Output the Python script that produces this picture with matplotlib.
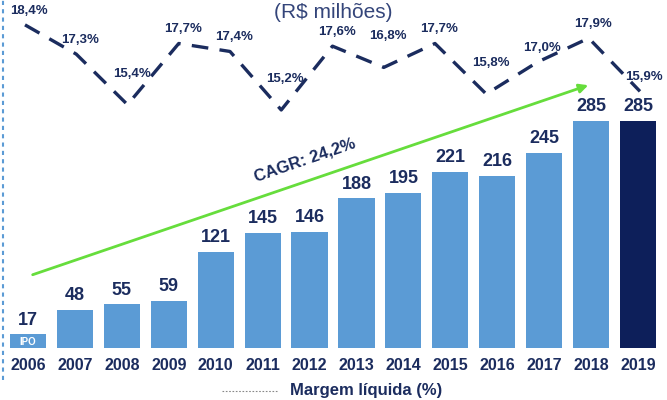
import numpy as np
import matplotlib
matplotlib.use("Agg")
import matplotlib.pyplot as plt
from matplotlib.lines import Line2D

plt.rcParams['font.family'] = ['Liberation Sans', 'DejaVu Sans']

# lucro liquido (R$ milhoes) por ano
years = ["2006", "2007", "2008", "2009", "2010", "2011", "2012",
         "2013", "2014", "2015", "2016", "2017", "2018", "2019"]
profit = [17, 48, 55, 59, 121, 145, 146, 188, 195, 221, 216, 245, 285, 285]

# margem liquida (%) - 13 pontos
margin = [18.4, 17.3, 15.4, 17.7, 17.4, 15.2, 17.6, 16.8, 17.7, 15.8, 17.0, 17.9, 15.9]
margin_labels = ["18,4%", "17,3%", "15,4%", "17,7%", "17,4%", "15,2%", "17,6%",
                 "16,8%", "17,7%", "15,8%", "17,0%", "17,9%", "15,9%"]

navy = "#1b2c5e"
light_blue = "#5b9bd5"
dark_blue = "#0d1f5a"
green = "#66dd3c"

W, H = 667, 400
fig = plt.figure(figsize=(W / 100, H / 100), dpi=100)

pos = [4.5 / W, 52 / H, 657 / W, 348 / H]
ax = fig.add_axes(pos)
x = np.arange(len(years))
colors = [light_blue] * (len(years) - 1) + [dark_blue]
ax.bar(x, profit, width=0.77, color=colors, zorder=2)
ax.set_xlim(-0.5, len(years) - 0.5)
ax.set_ylim(0, 437)
ax.axis("off")

for xi, v in zip(x, profit):
    ax.annotate(str(v), (xi, v), xytext=(0, 4), textcoords="offset points",
                ha="center", va="bottom", fontsize=13, fontweight="bold",
                color=navy)
    ax.annotate(years[xi], (xi, 0), xytext=(0, -7), textcoords="offset points",
                ha="center", va="top", fontsize=11.5, fontweight="bold",
                color=navy, annotation_clip=False)

ax.text(x[0], 1, "IPO", ha="center", va="bottom", fontsize=7,
        color="white", fontweight="bold")

# seta de crescimento (CAGR)
ax.annotate("", xy=(x[-2] - 0.06, 330), xytext=(x[0] + 0.1, 92),
            arrowprops=dict(arrowstyle="-|>", color=green, lw=2,
                            mutation_scale=13, shrinkA=0, shrinkB=0))
ax.text(5.9, 236, "CAGR: 24,2%", rotation=19, ha="center", va="center",
        fontsize=12, fontweight="bold", color=navy)

# linha da margem
ax2 = fig.add_axes(pos)
xm = np.arange(len(margin))
ax2.plot(xm, margin, color=navy, lw=2.4, dashes=(5, 3.4))
ax2.set_xlim(-0.4, 12.42)
ax2.set_ylim(6.25, 19.335)
ax2.axis("off")
for i, (m, lab) in enumerate(zip(margin, margin_labels)):
    is_min = 0 < i < len(margin) - 1 and m < margin[i - 1] and m < margin[i + 1]
    off = 18 if is_min else 6
    ax2.annotate(lab, (i, m), xytext=(3, off), textcoords="offset points",
                 ha="center", va="bottom", fontsize=9.5, fontweight="bold",
                 color=navy)

fig.text(0.5, 1 - 13 / H, "(R$ milhões)", ha="center", va="center",
         fontsize=15, color="#34457a")

# legenda
fig.add_artist(Line2D([222 / W, 278 / W], [1 - 391 / H] * 2, color="#888888",
                      lw=0.8, ls=(0, (1.5, 1.5))))
fig.text(290 / W, 1 - 391 / H, "Margem líquida (%)", ha="left", va="center",
         fontsize=12, fontweight="bold", color=navy)

# linha pontilhada vertical a esquerda
fig.add_artist(Line2D([3 / W, 3 / W], [0.05, 1], color=light_blue,
                      lw=1.5, ls=(0, (2, 2))))

fig.savefig("out.png", dpi=100)
